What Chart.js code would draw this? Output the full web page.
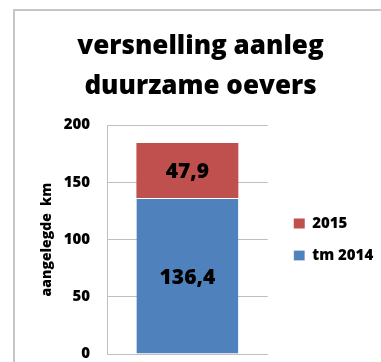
<!DOCTYPE html>
<html>
<head>
<meta charset="utf-8">
<script src="https://cdn.jsdelivr.net/npm/chart.js@4/dist/chart.umd.min.js"></script>
<style>
  html, body { margin: 0; padding: 0; background: #fff; overflow: hidden; }
  #wrap { position: relative; width: 381px; height: 362px; }
  #frame {
    position: absolute; left: 13px; top: 9px; width: 420px; height: 420px;
    border: 2px solid #c6c6c6; box-sizing: border-box;
  }
  canvas { position: absolute; left: 0; top: 0; }
</style>
</head>
<body>
<div id="wrap">
  <div id="frame"></div>
  <canvas id="chart" width="381" height="362"></canvas>
</div>
<script>
// ---- DATA ----
const CATEGORIES = [''];
const SERIES_NAMES = ['tm 2014', '2015'];
const VALUES_TM2014 = [136.4];
const VALUES_2015 = [47.9];
const Y_TICKS = [0, 50, 100, 150, 200];

const FONT = '"Open Sans", Lato, sans-serif';
const WEIGHT = '800';

// value labels in the middle of each stacked segment
const segmentLabels = {
  id: 'segmentLabels',
  afterDatasetsDraw(chart) {
    const c = chart.ctx;
    c.save();
    c.font = WEIGHT + ' 21px ' + FONT;
    c.fillStyle = '#000';
    c.textAlign = 'center';
    c.textBaseline = 'middle';
    chart.data.datasets.forEach((ds, i) => {
      chart.getDatasetMeta(i).data.forEach((bar, j) => {
        const txt = String(ds.data[j]).replace('.', ',');
        c.fillText(txt, bar.x, (bar.y + bar.base) / 2 + 2);
      });
    });
    c.restore();
  },
};

// title sits a bit right of centre; legend a bit away from the plot,
// vertically centred on the plot area
const boxTweaks = {
  id: 'boxTweaks',
  afterLayout(chart) {
    const area = chart.chartArea;
    chart.titleBlock.left += 9;
    chart.titleBlock.right += 9;
    chart.legend.left += 9;
    chart.legend.right = chart.width;
    chart.legend.top = area.top;
    chart.legend.bottom = area.bottom;
  },
};

function drawChart() {
  new Chart(document.getElementById('chart'), {
    type: 'bar',
    data: {
      labels: CATEGORIES,
      datasets: [
        { label: SERIES_NAMES[0], data: VALUES_TM2014, backgroundColor: '#4f81bd', borderColor: '#ffffff', borderWidth: { top: 1 } },
        { label: SERIES_NAMES[1], data: VALUES_2015, backgroundColor: '#c0504d' },
      ],
    },
    options: {
      responsive: false,
      animation: false,
      layout: { padding: { left: 39, right: 37, top: 14, bottom: 0 } },
      datasets: { bar: { barPercentage: 0.634, categoryPercentage: 1 } },
      plugins: {
        title: {
          display: true,
          text: ['versnelling aanleg', 'duurzame oevers'],
          font: { family: FONT, size: 26, weight: WEIGHT, lineHeight: 1.54 },
          color: '#000',
          padding: { top: 13, bottom: 18 },
        },
        legend: {
          position: 'right',
          reverse: true,
          labels: {
            font: { family: FONT, size: 15, weight: WEIGHT },
            color: '#000',
            boxWidth: 11,
            boxHeight: 10,
            padding: 17,
          },
        },
        tooltip: { enabled: false },
      },
      scales: {
        x: {
          stacked: true,
          ticks: { display: false },
          grid: { display: false, drawTicks: false },
          border: { color: '#bfbfbf' },
        },
        y: {
          stacked: true,
          min: Y_TICKS[0],
          max: Y_TICKS[Y_TICKS.length - 1],
          afterBuildTicks(axis) { axis.ticks = Y_TICKS.map(v => ({ value: v })); },
          afterFit(axis) {
            axis.width = 68;
            axis.paddingTop = 10;
            axis.paddingBottom = 8;
          },
          ticks: {
            font: { family: FONT, size: 15, weight: WEIGHT },
            color: '#000',
            padding: 17,
          },
          grid: { color: '#bfbfbf', drawTicks: false },
          border: { color: '#bfbfbf' },
          title: {
            display: true,
            text: 'aangelegde  km',
            font: { family: FONT, size: 14, weight: WEIGHT },
            color: '#000',
            padding: { top: 0, bottom: 6 },
          },
        },
      },
    },
    plugins: [segmentLabels, boxTweaks],
  });
}

// make sure the font is ready before Chart.js measures any text
Promise.all([
  document.fonts.load(WEIGHT + ' 26px "Open Sans"'),
  document.fonts.load(WEIGHT + ' 15px "Open Sans"'),
]).then(drawChart, drawChart);
</script>
</body>
</html>
